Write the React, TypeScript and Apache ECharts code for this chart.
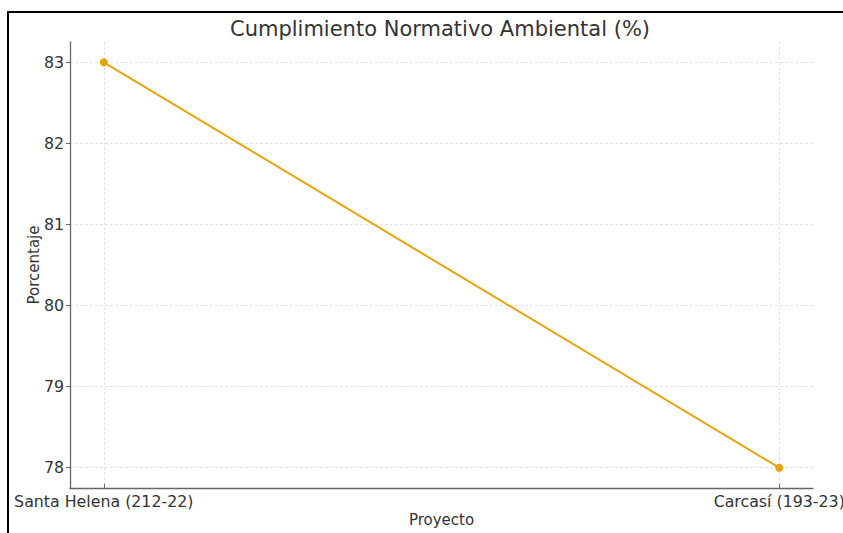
import React, { useEffect, useRef } from "react";
import * as echarts from "echarts";

const categories: string[] = ["Santa Helena (212-22)", "Carcasí (193-23)"];
const values: number[] = [83, 78];
const yTicks: number[] = [78, 79, 80, 81, 82, 83];
const xTicks: number[] = [0, 1];

const FONT = "DejaVu Sans";

export default function App() {
  const ref = useRef<HTMLDivElement>(null);
  useEffect(() => {
    if (!ref.current) return;
    const chart = echarts.init(ref.current, null, { renderer: "svg" });
    chart.setOption({
      animation: false,
      backgroundColor: "#ffffff",
      title: {
        text: "Cumplimiento Normativo Ambiental (%)",
        left: 435,
        textAlign: "center",
        top: 13,
        textStyle: { fontFamily: FONT, fontSize: 21, fontWeight: "normal", color: "#333333" },
      },
      graphic: [
        {
          type: "rect",
          shape: { x: 8, y: 12, width: 900, height: 600 },
          style: { fill: "none", stroke: "#000000", lineWidth: 2 },
          silent: true,
        },
      ],
      grid: { left: 70, right: 30, top: 42, bottom: 45, containLabel: false, outerBoundsMode: "none" },
      xAxis: {
        type: "value",
        min: -0.05,
        max: 1.05,
        name: "Proyecto",
        nameLocation: "middle",
        nameGap: 24,
        nameMoveOverlap: false,
        nameTextStyle: { fontFamily: FONT, fontSize: 15, color: "#333333" },
        axisLine: { show: true, onZero: false, lineStyle: { color: "#666666", width: 1.3 } },
        axisTick: { show: true, inside: true, length: 4, customValues: xTicks, lineStyle: { color: "#666666" } },
        axisLabel: {
          customValues: xTicks,
          margin: 5,
          fontFamily: FONT,
          fontSize: 15.8,
          color: "#333333",
          hideOverlap: false,
          formatter: (v: number) => categories[Math.round(v)] ?? "",
        },
        splitLine: { show: true, lineStyle: { color: "#dddddd", type: [3, 2], width: 0.8 } },
      },
      yAxis: {
        type: "value",
        min: 77.75,
        max: 83.25,
        name: "Porcentaje",
        nameLocation: "middle",
        nameGap: 29,
        nameMoveOverlap: false,
        nameTextStyle: { fontFamily: FONT, fontSize: 15, color: "#333333" },
        axisLine: { show: true, onZero: false, lineStyle: { color: "#666666", width: 1.3 } },
        axisTick: { show: true, length: 4, customValues: yTicks, lineStyle: { color: "#666666" } },
        axisLabel: {
          customValues: yTicks,
          margin: 6,
          fontFamily: FONT,
          fontSize: 15.8,
          color: "#333333",
        },
        splitLine: { show: true, lineStyle: { color: "#dddddd", type: [3, 2], width: 0.8 } },
      },
      series: [
        {
          type: "line",
          data: values.map((v, i) => [i, v]),
          symbol: "circle",
          symbolSize: 8,
          lineStyle: { color: "#E9A10B", width: 2 },
          itemStyle: { color: "#E9A10B" },
        },
      ],
    });
    return () => chart.dispose();
  }, []);
  return (
    <div
      ref={ref}
      style={{ position: "fixed", left: 0, top: 0, width: 843, height: 533 }}
    />
  );
}
